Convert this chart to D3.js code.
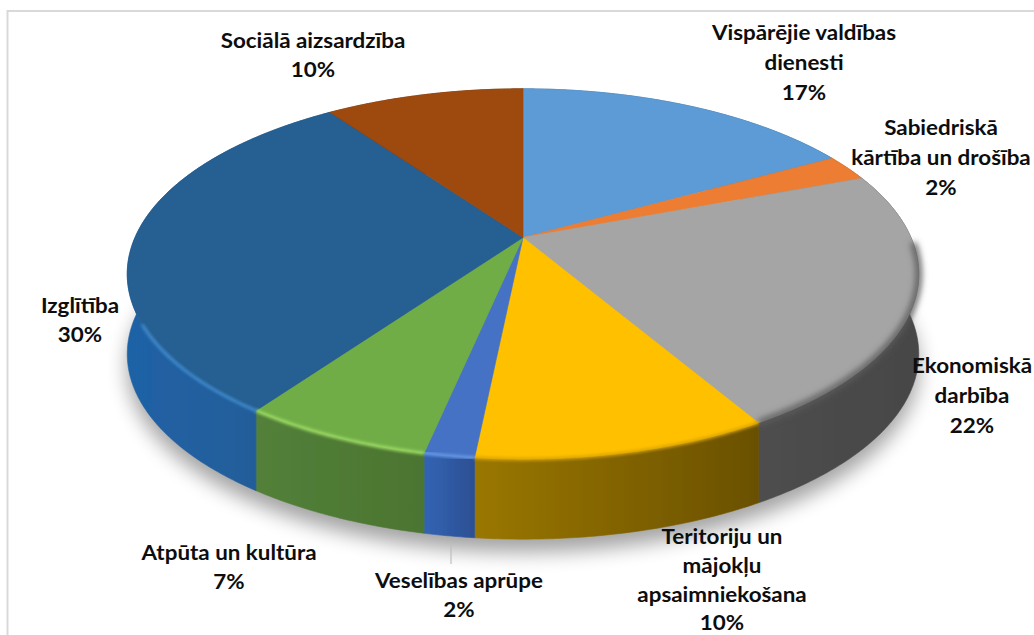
<!DOCTYPE html>
<html>
<head>
<meta charset="utf-8">
<style>
html,body{margin:0;padding:0;background:#fff;}
svg{display:block;}
text{font-family:Lato,"Open Sans",sans-serif;font-weight:700;font-size:20px;fill:#0d0d0d;text-anchor:middle;}
</style>
<script src="https://cdnjs.cloudflare.com/ajax/libs/d3/7.8.5/d3.min.js"></script>
</head>
<body>
<svg id="c" width="1034" height="635"></svg>
<script>
// Data (labels show the rounded shares)
const categories = ["Vispārējie valdības dienesti","Sabiedriskā kārtība un drošība","Ekonomiskā darbība","Teritoriju un mājokļu apsaimniekošana","Veselības aprūpe","Atpūta un kultūra","Izglītība","Sociālā aizsardzība"];
const shares = [16.9,2.3,22.4,10.0,1.7,6.5,30.4,9.8];

// Label wrapping and placement
const labelLines = [["Vispārējie valdības","dienesti"],["Sabiedriskā","kārtība un drošība"],["Ekonomiskā","darbība"],["Teritoriju un","mājokļu","apsaimniekošana"],["Veselības aprūpe"],["Atpūta un kultūra"],["Izglītība"],["Sociālā aizsardzība"]];
const labelX = [804,941,972,722,459,229,80,313];
const labelY = [40,135,373,544,588,560,313,48];
const lineGap = [30,30,30,28.8,29,29,29,29];

// Styles
const topColors = ["#5b9bd5","#ed7d31","#a5a5a5","#ffc000","#4472c4","#70ad47","#255e91","#9e480e"];
const wallLight = ["#3a6c99","#a5561f","#4e4e4e","#9a7700","#3264b4","#52803a","#1f62a6","#6e3209"];
const wallDark  = ["#2f5a80","#8a4618","#464646","#6a5000","#2c4f92","#4c7530","#245a92","#5a2a08"];
const rimColors = ["#5b9bd5","#ed7d31","#5a5a5a","#d9a400","#6a9cec","#a0df66","#3f8ccf","#9e480e"];

const W = 1034, H = 635;
const cx = 523, cy = 237.5;       // where the slices meet
const persp = 0.197;              // tilt perspective
const depth = 80;                 // wall height
const textStretch = 1.12;         // the reference lettering is wide
const xUnit = d3.scaleLinear().domain([-1,1]).range([cx-388,cx+388]);
const yUnit = d3.scaleLinear().domain([-1,1]).range([cy-178,cy+178]);
function proj(a, r=1){            // a: clockwise from top
  const X = r*Math.sin(a), Y = -r*Math.cos(a), s = 1/(1-persp*Y);
  return [xUnit(X*s), yUnit(Y*s)];
}
const pie = d3.pie().sort(null).value(d=>d)(shares);
const line = d3.line();
function arcPts(a0,a1,r=1,dy=0){
  const n = Math.max(2,Math.ceil(Math.abs(a1-a0)/0.01));
  return d3.range(n+1).map(i=>{const p=proj(a0+(a1-a0)*i/n,r);return [p[0],p[1]+dy];});
}

const svg = d3.select("#c");
svg.append("rect").attr("width",W).attr("height",H).attr("fill","#fff");
const defs = svg.append("defs");
[["shadow",10],["rim",1.5],["rimSoft",3.2],["soft",0.5]].forEach(([id,s])=>{
  defs.append("filter").attr("id",id).attr("x","-20%").attr("y","-20%").attr("width","140%").attr("height","140%")
    .append("feGaussianBlur").attr("stdDeviation",s);
});

// frame
svg.append("path").attr("d","M7.5 635V11H1034").attr("fill","none").attr("stroke","#d9d9d9").attr("stroke-width",2);

// soft shadow below the disc
svg.append("path").attr("d",line(arcPts(0,2*Math.PI,1.0,depth+13))+"Z")
  .attr("fill","#000").attr("opacity",0.36).attr("filter","url(#shadow)");

const disc = svg.append("g").attr("filter","url(#soft)");

// walls
pie.forEach((d,i)=>{
  const top = arcPts(d.startAngle,d.endAngle);
  const bottom = arcPts(d.endAngle,d.startAngle,1,depth);
  const g = defs.append("linearGradient").attr("id","w"+i).attr("gradientUnits","userSpaceOnUse")
    .attr("x1",d3.min(top,p=>p[0])).attr("x2",d3.max(top,p=>p[0])+1).attr("y1",0).attr("y2",0);
  g.append("stop").attr("offset",0).attr("stop-color",wallLight[i]);
  g.append("stop").attr("offset",1).attr("stop-color",wallDark[i]);
  disc.append("path").attr("d",line(top.concat(bottom))+"Z").attr("fill",`url(#w${i})`)
    .attr("stroke",`url(#w${i})`).attr("stroke-width",0.6);
});

// top face
pie.forEach((d,i)=>{
  const pts = [proj(0,0)].concat(arcPts(d.startAngle,d.endAngle));
  disc.append("path").attr("d",line(pts)+"Z").attr("fill",topColors[i]).attr("stroke",topColors[i]).attr("stroke-width",0.6);
});

// bevel along the front rim
const rimStart = 1.6, rimEnd = 4.25;
pie.forEach((d,i)=>{
  const a0 = Math.max(d.startAngle,rimStart), a1 = Math.min(d.endAngle,rimEnd);
  if(a1<=a0) return;
  const isGrey = i===2;
  disc.append("path").attr("d",line(arcPts(a0,a1)))
    .attr("fill","none").attr("stroke",rimColors[i]).attr("stroke-width",isGrey?6:3)
    .attr("filter",isGrey?"url(#rimSoft)":"url(#rim)");
});

// leader line for the small slice
svg.append("line").attr("x1",451).attr("x2",451).attr("y1",545).attr("y2",564)
  .attr("stroke","#bfbfbf").attr("stroke-width",1.2);

// labels
const pct = d3.format(".0f");
categories.forEach((c,i)=>{
  const lines = labelLines[i].concat(pct(shares[i])+"%");
  const t = svg.append("text").attr("aria-label",c)
    .attr("transform",`translate(${labelX[i]},0) scale(${textStretch},1)`);
  lines.forEach((l,j)=>t.append("tspan").attr("x",0).attr("y",labelY[i]+j*lineGap[i]).text(l));
});
</script>
</body>
</html>
